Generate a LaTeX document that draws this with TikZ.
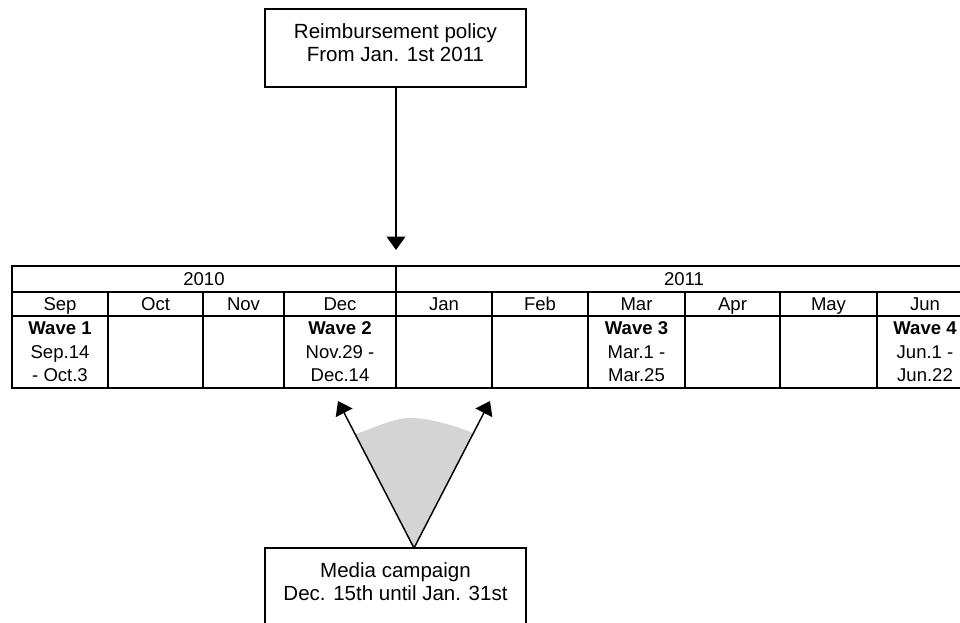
\documentclass[tikz,border=0pt]{standalone}
\usepackage{fontspec}
\setmainfont{Liberation Sans}
\usetikzlibrary{arrows.meta}
\begin{document}
\begin{tikzpicture}[x=0.75pt,y=-0.75pt,
  gridline/.style={draw=black,line width=0.9pt},
  boxshape/.style={draw=black,line width=0.9pt,minimum width=195.75pt,minimum height=58.5pt,inner sep=0pt},
  boxtext/.style={font=\fontsize{15.4}{17.3}\selectfont,align=center,inner sep=0pt},
  celltext/.style={font=\fontsize{13.9}{17.6}\selectfont,align=center,inner sep=0pt},
  linetext/.style={font=\fontsize{13.9}{17.6}\selectfont,inner sep=0pt,anchor=base},
  arr/.style={line width=1.1pt,-{Triangle[length=10pt,width=14pt]}},
  fan/.style={fill=black!17}
]
\clip (0,0) rectangle (960,623);
\fill[white] (0,0) rectangle (960,623);

% top box
\node[boxshape] (rb) at (395.5,48) {};
\node[boxtext] (rbt) at (395.5,42.5) {Reimbursement policy\\From Jan. 1st 2011};
\coordinate (pol) at (396,250);
\draw[arr] (rb.south -| pol) -- (pol);

% table grid
\draw[gridline] (12,266) rectangle (973,388);
\draw[gridline] (12,292) -- (973,292);
\draw[gridline] (12,316) -- (973,316);
\draw[gridline] (396,266) -- (396,388);
\foreach \x in {108,203,284,492,588,685,780,877}
  \draw[gridline] (\x,292) -- (\x,388);

% years
\node[linetext] (y2010) at (204,285.5) {2010};
\node[linetext] (y2011) at (684,285.5) {2011};

% months
\node[linetext] (mSep) at (60,310.5) {Sep};
\node[linetext] (mOct) at (155.5,310.5) {Oct};
\node[linetext] (mNov) at (243.5,310.5) {Nov};
\node[linetext] (mDec) at (340,310.5) {Dec};
\node[linetext] (mJan) at (444,310.5) {Jan};
\node[linetext] (mFeb) at (540,310.5) {Feb};
\node[linetext] (mMar) at (636.5,310.5) {Mar};
\node[linetext] (mApr) at (732.5,310.5) {Apr};
\node[linetext] (mMay) at (828.5,310.5) {May};
\node[linetext] (mJun) at (925,310.5) {Jun};

% waves
\node[celltext] (w1) at (60,352) {\textbf{Wave 1}\\Sep.14\\- Oct.3};
\node[celltext] (w2) at (340,352) {\textbf{Wave 2}\\Nov.29 -\\Dec.14};
\node[celltext] (w3) at (636.5,352) {\textbf{Wave 3}\\Mar.1 -\\Mar.25};
\node[celltext] (w4) at (925,352) {\textbf{Wave 4}\\Jun.1 -\\Jun.22};

% media box
\node[boxshape] (mb) at (395.5,587) {};
\node[boxtext] (mbt) at (395.5,581.5) {Media campaign\\Dec. 15th until Jan. 31st};
\coordinate (ms) at (414,548);
\coordinate (mL) at (338,401);
\coordinate (mR) at (490,401);

\fill[fan] (ms) -- (355.5,434) .. controls (375,428) and (395,417) .. (413,418)
  .. controls (433,419) and (455,426) .. (473.5,433) -- cycle;
\draw[arr] (ms) -- (mL);
\draw[arr] (ms) -- (mR);
\end{tikzpicture}
\end{document}
